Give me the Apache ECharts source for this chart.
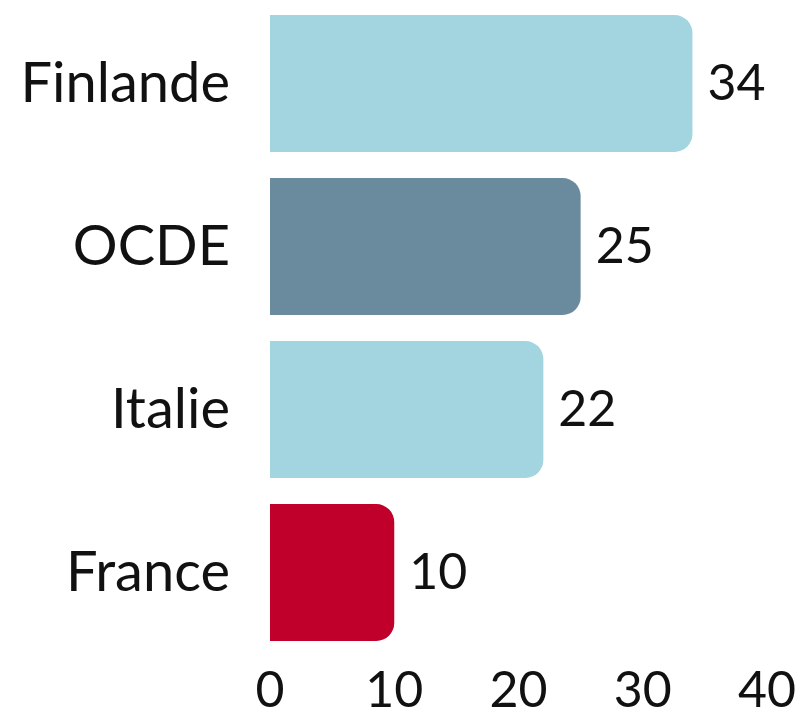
<!DOCTYPE html>
<html>
<head>
<meta charset="utf-8">
<script src="https://cdn.jsdelivr.net/npm/echarts@6/dist/echarts.min.js"></script>
<style>
  html, body { margin: 0; padding: 0; background: #fff; }
  #chart { width: 800px; height: 709px; }
</style>
</head>
<body>
<div id="chart"></div>
<script>
// données
var categories = ['Finlande', 'OCDE', 'Italie', 'France'];
var values = [34, 25, 22, 10];
var barColors = ['#a2d5df', '#6a8a9e', '#a2d5df', '#c0002a'];
var xTicks = [0, 10, 20, 30, 40];

var myChart = echarts.init(document.getElementById('chart'));

var option = {
    animation: false,
    textStyle: { fontFamily: 'Lato' },
    grid: {
        left: 270, right: 33, top: 2, bottom: 55,
        containLabel: false,
        outerBoundsMode: 'none'
    },
    xAxis: {
        type: 'value',
        min: xTicks[0],
        max: xTicks[xTicks.length - 1],
        interval: 10,
        splitLine: { show: false },
        axisLine: { show: false },
        axisTick: { show: false },
        axisLabel: {
            color: '#111',
            fontSize: 50,
            fontFamily: 'Lato',
            margin: 12
        }
    },
    yAxis: {
        type: 'category',
        inverse: true,
        data: categories,
        axisLine: { show: false },
        axisTick: { show: false },
        axisLabel: {
            color: '#111',
            fontSize: 56,
            fontFamily: 'Lato',
            margin: 40
        }
    },
    series: [{
        type: 'bar',
        barCategoryGap: '16%',
        data: values.map(function (v, i) {
            return { value: v, itemStyle: { color: barColors[i] } };
        }),
        itemStyle: { borderRadius: [0, 18, 18, 0] },
        label: {
            show: true,
            position: 'right',
            distance: 15,
            color: '#111',
            fontSize: 50,
            fontFamily: 'Lato'
        }
    }]
};

myChart.setOption(option);
</script>
</body>
</html>
